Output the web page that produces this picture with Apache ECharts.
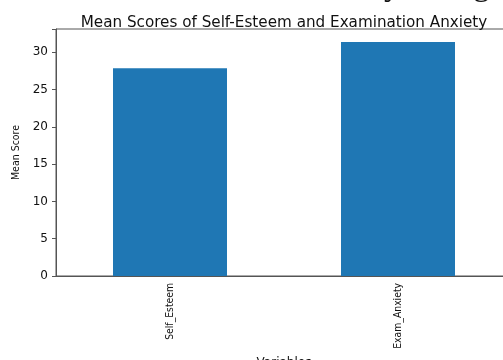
<!DOCTYPE html>
<html><head><meta charset="utf-8">
<script src="https://cdn.jsdelivr.net/npm/echarts@6/dist/echarts.min.js"></script>
<style>html,body{margin:0;padding:0;background:#fff}#c{width:503px;height:360px}</style>
</head><body><div id="c"></div>
<script>
const categories = ['Self_Esteem', 'Exam_Anxiety'];
const meanScores = [27.85, 31.35];
const yTicks = [0, 5, 10, 15, 20, 25, 30];

const chart = echarts.init(document.getElementById('c'), null, {renderer: 'canvas'});
chart.setOption({
  animation: false,
  backgroundColor: '#fff',
  title: {
    text: 'Mean Scores of Self-Esteem and Examination Anxiety',
    left: 279, top: 11, textAlign: 'center',
    textStyle: {fontFamily: 'DejaVu Sans', fontSize: 15.2, fontWeight: 'normal', color: '#111'}
  },
  graphic: [
    {type: 'text', left: 384, top: -31, style: {text: 'y', font: '34px "Liberation Serif"', fill: '#111'}},
    {type: 'text', left: 473, top: -31, style: {text: 'g', font: '34px "Liberation Serif"', fill: '#111'}}
  ],
  grid: {left: 56, right: -9, top: 29, bottom: 84, outerBoundsMode: 'none', containLabel: false,
    show: true, borderColor: '#555', borderWidth: 1, backgroundColor: 'transparent'},
  xAxis: {
    type: 'category', data: categories,
    name: 'Variables', nameLocation: 'middle', nameGap: 71,
    nameTextStyle: {fontFamily: 'DejaVu Sans', fontSize: 12, color: '#111'},
    axisLine: {lineStyle: {color: '#555', width: 1}},
    axisTick: {alignWithLabel: true, length: 4, lineStyle: {color: '#555'}},
    axisLabel: {rotate: 90, margin: 7, fontFamily: 'DejaVu Sans Condensed, DejaVu Sans', fontSize: 10.3, color: '#111'}
  },
  yAxis: {
    type: 'value', min: 0, max: 33.1, interval: 5,
    name: 'Mean Score', nameLocation: 'middle', nameGap: 33, nameRotate: 90,
    nameTextStyle: {fontFamily: 'DejaVu Sans Condensed, DejaVu Sans', fontSize: 10.5, color: '#111'},
    axisLine: {show: true, lineStyle: {color: '#555', width: 1}},
    axisTick: {show: true, length: 4, lineStyle: {color: '#555'}},
    splitLine: {show: false},
    axisLabel: {margin: 8, fontFamily: 'DejaVu Sans', fontSize: 12, color: '#111',
      formatter: v => yTicks.includes(v) ? String(v) : ''}
  },
  series: [{
    type: 'bar', data: meanScores, barWidth: '50%',
    itemStyle: {color: '#1f77b4'}
  }]
});
</script></body></html>
